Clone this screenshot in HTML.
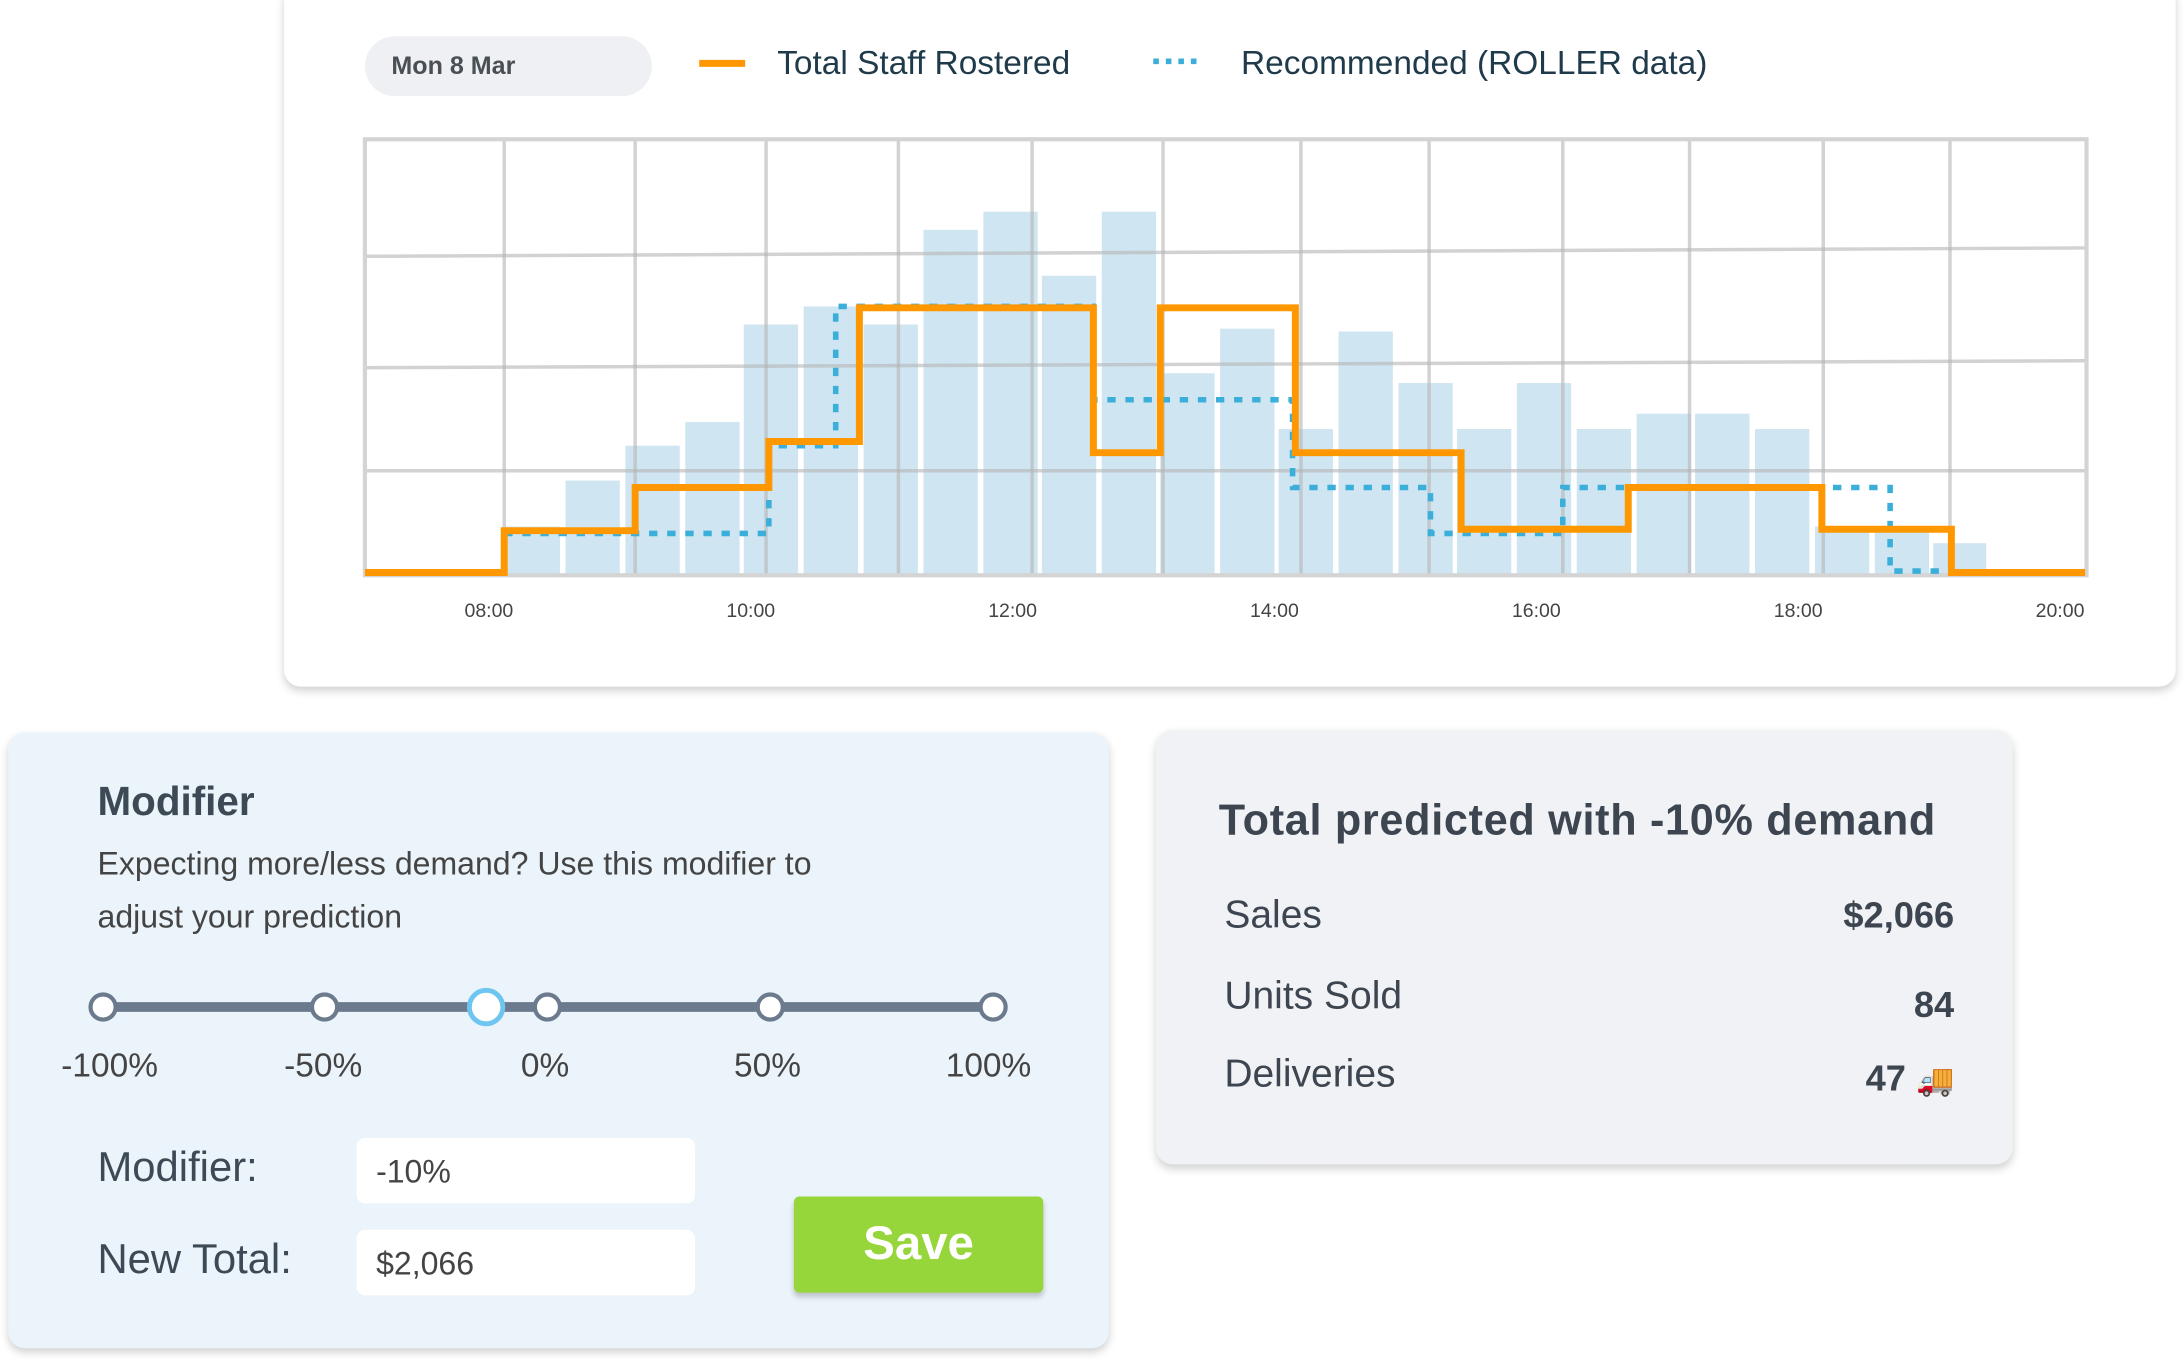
<!DOCTYPE html>
<html><head><meta charset="utf-8"><style>
html,body{margin:0;padding:0;background:#fff;width:2184px;height:1362px;overflow:hidden}
#s{position:absolute;left:0;top:0;width:1568px;height:978px;transform:scale(1.39286);transform-origin:0 0;font-family:"Liberation Sans",sans-serif}
.abs{position:absolute}
.card{position:absolute;border-radius:12px;box-shadow:0 3px 6px rgba(0,0,0,0.18)}
</style></head><body><div id="s">
<div class="card" style="left:204px;top:-12px;width:1358px;height:505px;background:#fff"></div>
<div class="abs" style="left:262px;top:26px;width:206px;height:43px;border-radius:22px;background:#eef0f3"></div>
<div class="abs" style="left:281px;top:37px;font-size:18px;font-weight:bold;color:#4a4f55">Mon 8 Mar</div>
<div class="abs" style="left:502px;top:43px;width:33px;height:5px;background:#ff9800"></div>
<div class="abs" style="left:558px;top:32px;font-size:24px;color:#1f3a4a">Total Staff Rostered</div>
<svg class="abs" style="left:826px;top:40px" width="40" height="8"><line x1="2" y1="4" x2="38" y2="4" stroke="#3bafda" stroke-width="4" stroke-dasharray="4 5"/></svg>
<div class="abs" style="left:891px;top:32px;font-size:24px;color:#1f3a4a">Recommended (ROLLER data)</div>
<svg class="abs" style="left:0;top:0" width="1568" height="500">
<g fill="#cfe5f1">
<rect x="363" y="378" width="39" height="35"/><rect x="406" y="345" width="39" height="68"/><rect x="449" y="320" width="39" height="93"/><rect x="492" y="303" width="39" height="110"/><rect x="534" y="233" width="39" height="180"/><rect x="577" y="220" width="39" height="193"/><rect x="620" y="233" width="39" height="180"/><rect x="663" y="165" width="39" height="248"/><rect x="706" y="152" width="39" height="261"/><rect x="748" y="198" width="39" height="215"/><rect x="791" y="152" width="39" height="261"/><rect x="833" y="268" width="39" height="145"/><rect x="876" y="236" width="39" height="177"/><rect x="918" y="308" width="39" height="105"/><rect x="961" y="238" width="39" height="175"/><rect x="1004" y="275" width="39" height="138"/><rect x="1046" y="308" width="39" height="105"/><rect x="1089" y="275" width="39" height="138"/><rect x="1132" y="308" width="39" height="105"/><rect x="1175" y="297" width="39" height="116"/><rect x="1217" y="297" width="39" height="116"/><rect x="1260" y="308" width="39" height="105"/><rect x="1303" y="378" width="39" height="35"/><rect x="1346" y="378" width="39" height="35"/><rect x="1388" y="390" width="38" height="23"/>
</g>
<g stroke="#b4b4b4" stroke-opacity="0.6" stroke-width="2.5" fill="none">
<line x1="262" y1="184" x2="1498" y2="178"/><line x1="262" y1="264" x2="1498" y2="259"/><line x1="262" y1="338" x2="1498" y2="338"/>
<line x1="362" y1="100" x2="362" y2="413"/><line x1="456" y1="100" x2="456" y2="413"/><line x1="550" y1="100" x2="550" y2="413"/><line x1="645" y1="100" x2="645" y2="413"/><line x1="741" y1="100" x2="741" y2="413"/><line x1="835" y1="100" x2="835" y2="413"/><line x1="934" y1="100" x2="934" y2="413"/><line x1="1026" y1="100" x2="1026" y2="413"/><line x1="1122" y1="100" x2="1122" y2="413"/><line x1="1213" y1="100" x2="1213" y2="413"/><line x1="1309" y1="100" x2="1309" y2="413"/><line x1="1400" y1="100" x2="1400" y2="413"/>
</g>
<rect x="262" y="100" width="1236" height="313" fill="none" stroke="#d4d4d4" stroke-width="3"/>
<polyline fill="none" stroke="#3bafda" stroke-width="4" stroke-dasharray="6 7" points="362,383 552,383 552,320 600,320 600,220 785,220 785,287 928,287 928,350 1027,350 1027,383 1122,383 1122,350 1357,350 1357,410 1395,410"/>
<polyline fill="none" stroke="#ff9800" stroke-width="5" points="262,411 362,411 362,381 456,381 456,350 552,350 552,317 617,317 617,221 785,221 785,325 833,325 833,221 930,221 930,325 1049,325 1049,380 1169,380 1169,350 1308,350 1308,380 1401,380 1401,411 1497,411"/>
<g font-size="14" fill="#444" text-anchor="middle" font-family="Liberation Sans,sans-serif">
<text x="351" y="443">08:00</text><text x="539" y="443">10:00</text><text x="727" y="443">12:00</text><text x="915" y="443">14:00</text><text x="1103" y="443">16:00</text><text x="1291" y="443">18:00</text><text x="1479" y="443">20:00</text>
</g>
</svg>

<div class="card" style="left:6px;top:526px;width:790px;height:442px;background:#ebf4fa"></div>
<div class="abs" style="left:70px;top:560px;font-size:29px;font-weight:bold;color:#3d4a55">Modifier</div>
<div class="abs" style="left:70px;top:601px;font-size:23px;line-height:38px;color:#444;width:560px">Expecting more/less demand? Use this modifier to adjust your prediction</div>
<svg class="abs" style="left:0;top:700px" width="800" height="50">
<line x1="74" y1="23" x2="713" y2="23" stroke="#6b7a8c" stroke-width="7"/>
<g fill="#fff" stroke="#6b7a8c" stroke-width="3">
<circle cx="74" cy="23" r="9"/><circle cx="233" cy="23" r="9"/><circle cx="393" cy="23" r="9"/><circle cx="553" cy="23" r="9"/><circle cx="713" cy="23" r="9"/></g>
<circle cx="349" cy="23" r="12" fill="#fff" stroke="#6ec6f0" stroke-width="3.5"/>
</svg>
<div class="abs" style="top:752px;left:0;width:800px;font-size:24px;color:#444">
<span class="abs" style="left:44px">-100%</span><span class="abs" style="left:204px">-50%</span><span class="abs" style="left:374px">0%</span><span class="abs" style="left:527px">50%</span><span class="abs" style="left:679px">100%</span></div>
<div class="abs" style="left:70px;top:822px;font-size:30px;color:#3d4a55">Modifier:</div>
<div class="abs" style="left:256px;top:817px;width:243px;height:47px;background:#fff;border-radius:6px"></div>
<div class="abs" style="left:270px;top:828px;font-size:23px;color:#444">-10%</div>
<div class="abs" style="left:70px;top:888px;font-size:30px;color:#3d4a55">New Total:</div>
<div class="abs" style="left:256px;top:883px;width:243px;height:47px;background:#fff;border-radius:6px"></div>
<div class="abs" style="left:270px;top:894px;font-size:23px;color:#444">$2,066</div>
<div class="abs" style="left:570px;top:859px;width:179px;height:69px;background:#97d63a;border-radius:4px;box-shadow:0 3px 4px rgba(0,0,0,0.2);color:#fff;font-size:34px;font-weight:bold;text-align:center;line-height:69px">Save</div>

<div class="card" style="left:830px;top:524px;width:615px;height:312px;background:#f0f2f5"></div>
<div class="abs" style="left:875px;top:571px;font-size:31px;font-weight:bold;color:#3d4550;letter-spacing:0.5px">Total predicted with -10% demand</div>
<div class="abs" style="left:879px;top:641px;font-size:28px;color:#3d4550">Sales</div>
<div class="abs" style="left:1100px;width:303px;text-align:right;top:642px;font-size:26px;font-weight:bold;color:#3d4550">$2,066</div>
<div class="abs" style="left:879px;top:699px;font-size:28px;color:#3d4550">Units Sold</div>
<div class="abs" style="left:1100px;width:303px;text-align:right;top:706px;font-size:26px;font-weight:bold;color:#3d4550">84</div>
<div class="abs" style="left:879px;top:755px;font-size:28px;color:#3d4550">Deliveries</div>
<div class="abs" style="left:1100px;width:303px;text-align:right;top:759px;font-size:26px;font-weight:bold;color:#3d4550">47 <span style="font-size:22px">🚚</span></div>
</div></body></html>
